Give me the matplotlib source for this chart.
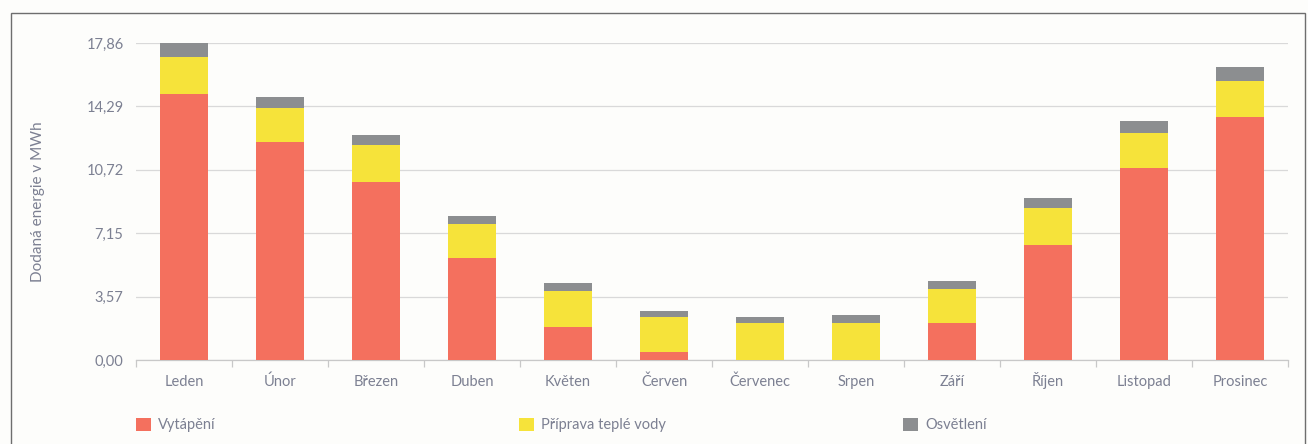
import matplotlib
matplotlib.use("Agg")
import matplotlib.pyplot as plt
from matplotlib.patches import Rectangle, Patch
from matplotlib.legend import Legend
import numpy as np

months = ["Leden", "Únor", "Březen", "Duben", "Květen", "Červen",
          "Červenec", "Srpen", "Září", "Říjen", "Listopad", "Prosinec"]
heating = [15.00, 12.31, 10.04, 5.73, 1.84, 0.45, 0.0, 0.0, 2.07, 6.47, 10.83, 13.67]
hot_water = [2.07, 1.87, 2.07, 1.94, 2.03, 1.96, 2.07, 2.07, 1.95, 2.07, 1.97, 2.07]
lighting = [0.85, 0.63, 0.54, 0.45, 0.45, 0.33, 0.36, 0.45, 0.45, 0.56, 0.66, 0.77]
series_names = ["Vytápění", "Příprava teplé vody", "Osvětlení"]
yticks = [0.00, 3.57, 7.15, 10.72, 14.29, 17.86]
ylabel = "Dodaná energie v MWh"

plt.rcParams['font.family'] = ['Lato', 'DejaVu Sans']
text_col = "#7c8092"
colors = ["#F4705E", "#F6E33A", "#8C8E90"]

fig = plt.figure(figsize=(13.08, 4.44), dpi=100)
fig.patch.set_facecolor("#fdfdfb")
W, H = 1308, 444
ax = fig.add_axes([136 / W, 1 - 360 / H, 1152 / W, (360 - 43) / H])
ax.set_facecolor("#fdfdfb")

x = np.arange(len(months))
h = np.array(heating)
w = np.array(hot_water)
l = np.array(lighting)
bw = 0.49
ax.bar(x, h, bw, color=colors[0], zorder=3)
ax.bar(x, w, bw, bottom=h, color=colors[1], zorder=3)
ax.bar(x, l, bw, bottom=h + w, color=colors[2], zorder=3)

ax.set_xlim(-0.5, len(months) - 0.5)
ax.set_ylim(0, 17.86)
ax.set_yticks(yticks)
ax.set_yticklabels([f"{v:.2f}".replace(".", ",") for v in yticks])
ax.yaxis.grid(True, color="#d9d9d9", linewidth=0.9, zorder=0)
ax.tick_params(axis="y", length=0, pad=9, labelsize=10.5, labelcolor=text_col)

ax.set_xticks(x)
ax.set_xticklabels(months)
ax.tick_params(axis="x", which="major", length=0, pad=18.5, labelsize=10.5, labelcolor=text_col)
for lbl in ax.get_xticklabels():
    lbl.set_verticalalignment("baseline")
ax.set_xticks(np.arange(-0.5, len(months), 1.0), minor=True)
ax.tick_params(axis="x", which="minor", length=5, color="#c8c8c8", width=0.9)

for s in ["top", "right", "left"]:
    ax.spines[s].set_visible(False)
ax.spines["bottom"].set_color("#c8c8c8")
ax.spines["bottom"].set_linewidth(0.9)

ax.set_ylabel(ylabel, fontsize=11, color=text_col)
ax.yaxis.set_label_coords((45 - 136) / 1152, 0.5)

yleg = -(425 - 360) / (360 - 43)
for i, (name, col) in enumerate(zip(series_names, colors)):
    xf = [0.0, 383 / 1152, 767 / 1152][i]
    lg = Legend(ax, [Patch(facecolor=col, edgecolor="none")], [name],
                loc="center left", bbox_to_anchor=(xf, yleg), frameon=False,
                handlelength=1.0, handleheight=1.0, handletextpad=0.5,
                fontsize=10.5, borderaxespad=0, borderpad=0)
    for t in lg.get_texts():
        t.set_color(text_col)
    ax.add_artist(lg)

fig.patches.append(Rectangle((11 / W, -0.1), (1305 - 11) / W, 1.1 - 13 / H,
                             transform=fig.transFigure, fill=False,
                             edgecolor="#6e6e6e", linewidth=1.0))

fig.savefig("out.png", dpi=100, facecolor=fig.get_facecolor())
